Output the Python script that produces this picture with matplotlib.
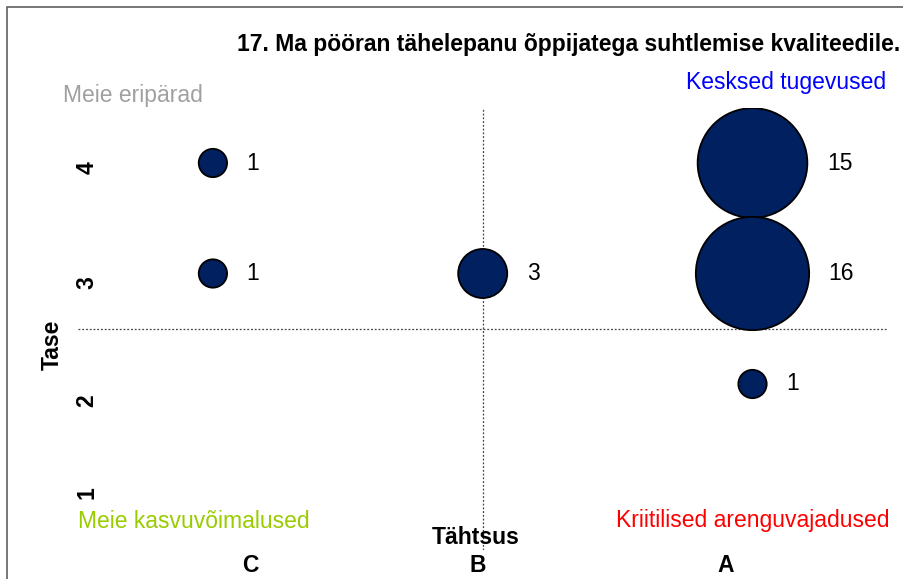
import numpy as np
import matplotlib
matplotlib.use("Agg")
import matplotlib.pyplot as plt
from matplotlib.patches import Rectangle
from matplotlib import transforms

plt.rcParams['font.family'] = ['Liberation Sans', 'DejaVu Sans']

# ---- data ----
title = "17. Ma pööran tähelepanu õppijatega suhtlemise kvaliteedile."
categories = ["C", "B", "A"]          # Tähtsus (x)
levels = [1, 2, 3, 4]                 # Tase (y)
bubble_x = [1, 1, 2, 3, 3, 3]         # index+1 into categories
bubble_y = [4, 3, 3, 4, 3, 2]
bubble_n = [1, 1, 3, 15, 16, 1]

# ---- layout ----
W, H = 904, 579
FS = 16.5
cat_label_x = [1.14, 1.98, 2.90]      # where Excel put the category labels
level_label_y = [1.02, 1.85, 2.92, 3.96]
bubble_color = "#002060"
size_per_unit = 416                   # pt^2 per count (area scaling)
label_gap = 14                        # pt between bubble edge and label

fig = plt.figure(figsize=(W / 100, H / 100), dpi=100)
ax = fig.add_axes([78 / W, 1 - 549.75 / H, 809.4 / W, 442 / H])
ax.set_xlim(0.5, 3.5)
ax.set_ylim(0.5, 4.5)
ax.set_xticks([])
ax.set_yticks([])
for s in ax.spines.values():
    s.set_visible(False)
ax.patch.set_alpha(0)

# quadrant lines
ax.axvline(2, color="#444444", lw=0.9, ls=(0, (1.5, 1.5)), zorder=1)
ax.axhline(2.5, color="#444444", lw=0.9, ls=(0, (1.5, 1.5)), zorder=1)

# bubbles
sizes = np.array(bubble_n) * size_per_unit
ax.scatter(bubble_x, bubble_y, s=sizes, c=bubble_color, edgecolors="black",
           linewidths=1.3, zorder=3)
for x, y, n, s in zip(bubble_x, bubble_y, bubble_n, sizes):
    ax.annotate(str(n), (x, y), xytext=(np.sqrt(s) / 2 + label_gap, 0),
                textcoords="offset points", ha="left", va="center",
                fontsize=FS, color="black")

# axis labels (Excel style)
ylab_tr = transforms.blended_transform_factory(ax.transAxes, ax.transData)
for yv, lv in zip(level_label_y, levels):
    ax.text(9 / 809.4, yv, str(lv), transform=ylab_tr, rotation=90,
            ha="center", va="center", fontsize=FS, fontweight="bold")
xlab_tr = transforms.blended_transform_factory(ax.transData, fig.transFigure)
for xv, c in zip(cat_label_x, categories):
    ax.text(xv, 1 - 565 / H, c, transform=xlab_tr, ha="center", va="center",
            fontsize=FS, fontweight="bold")

fig.text(476 / W, 1 - 538 / H, "Tähtsus", ha="center", va="center",
         fontsize=FS, fontweight="bold")
fig.text(52 / W, 1 - 345 / H, "Tase", ha="center", va="center", rotation=90,
         fontsize=FS, fontweight="bold")

# title
fig.text(900 / W, 1 - 45 / H, title, ha="right", va="center",
         fontsize=FS, fontweight="bold")

# quadrant captions
fig.text(63 / W, 1 - 95 / H, "Meie eripärad", ha="left", va="center",
         fontsize=FS, color="#A0A0A0")
fig.text(886 / W, 1 - 83 / H, "Kesksed tugevused", ha="right", va="center",
         fontsize=FS, color="#0000FF")
fig.text(78 / W, 1 - 521 / H, "Meie kasvuvõimalused", ha="left", va="center",
         fontsize=FS, color="#99CC00")
fig.text(890 / W, 1 - 521 / H, "Kriitilised arenguvajadused", ha="right",
         va="center", fontsize=FS, color="#FF0000")

# outer frame (only top and left edge are inside the picture)
fig.patches.append(Rectangle((7 / W, -0.1), 1.2, 1.1 - 7 / H, fill=False,
                             edgecolor="#606060", lw=1.2,
                             transform=fig.transFigure, figure=fig))

fig.savefig("out.png", dpi=100)
